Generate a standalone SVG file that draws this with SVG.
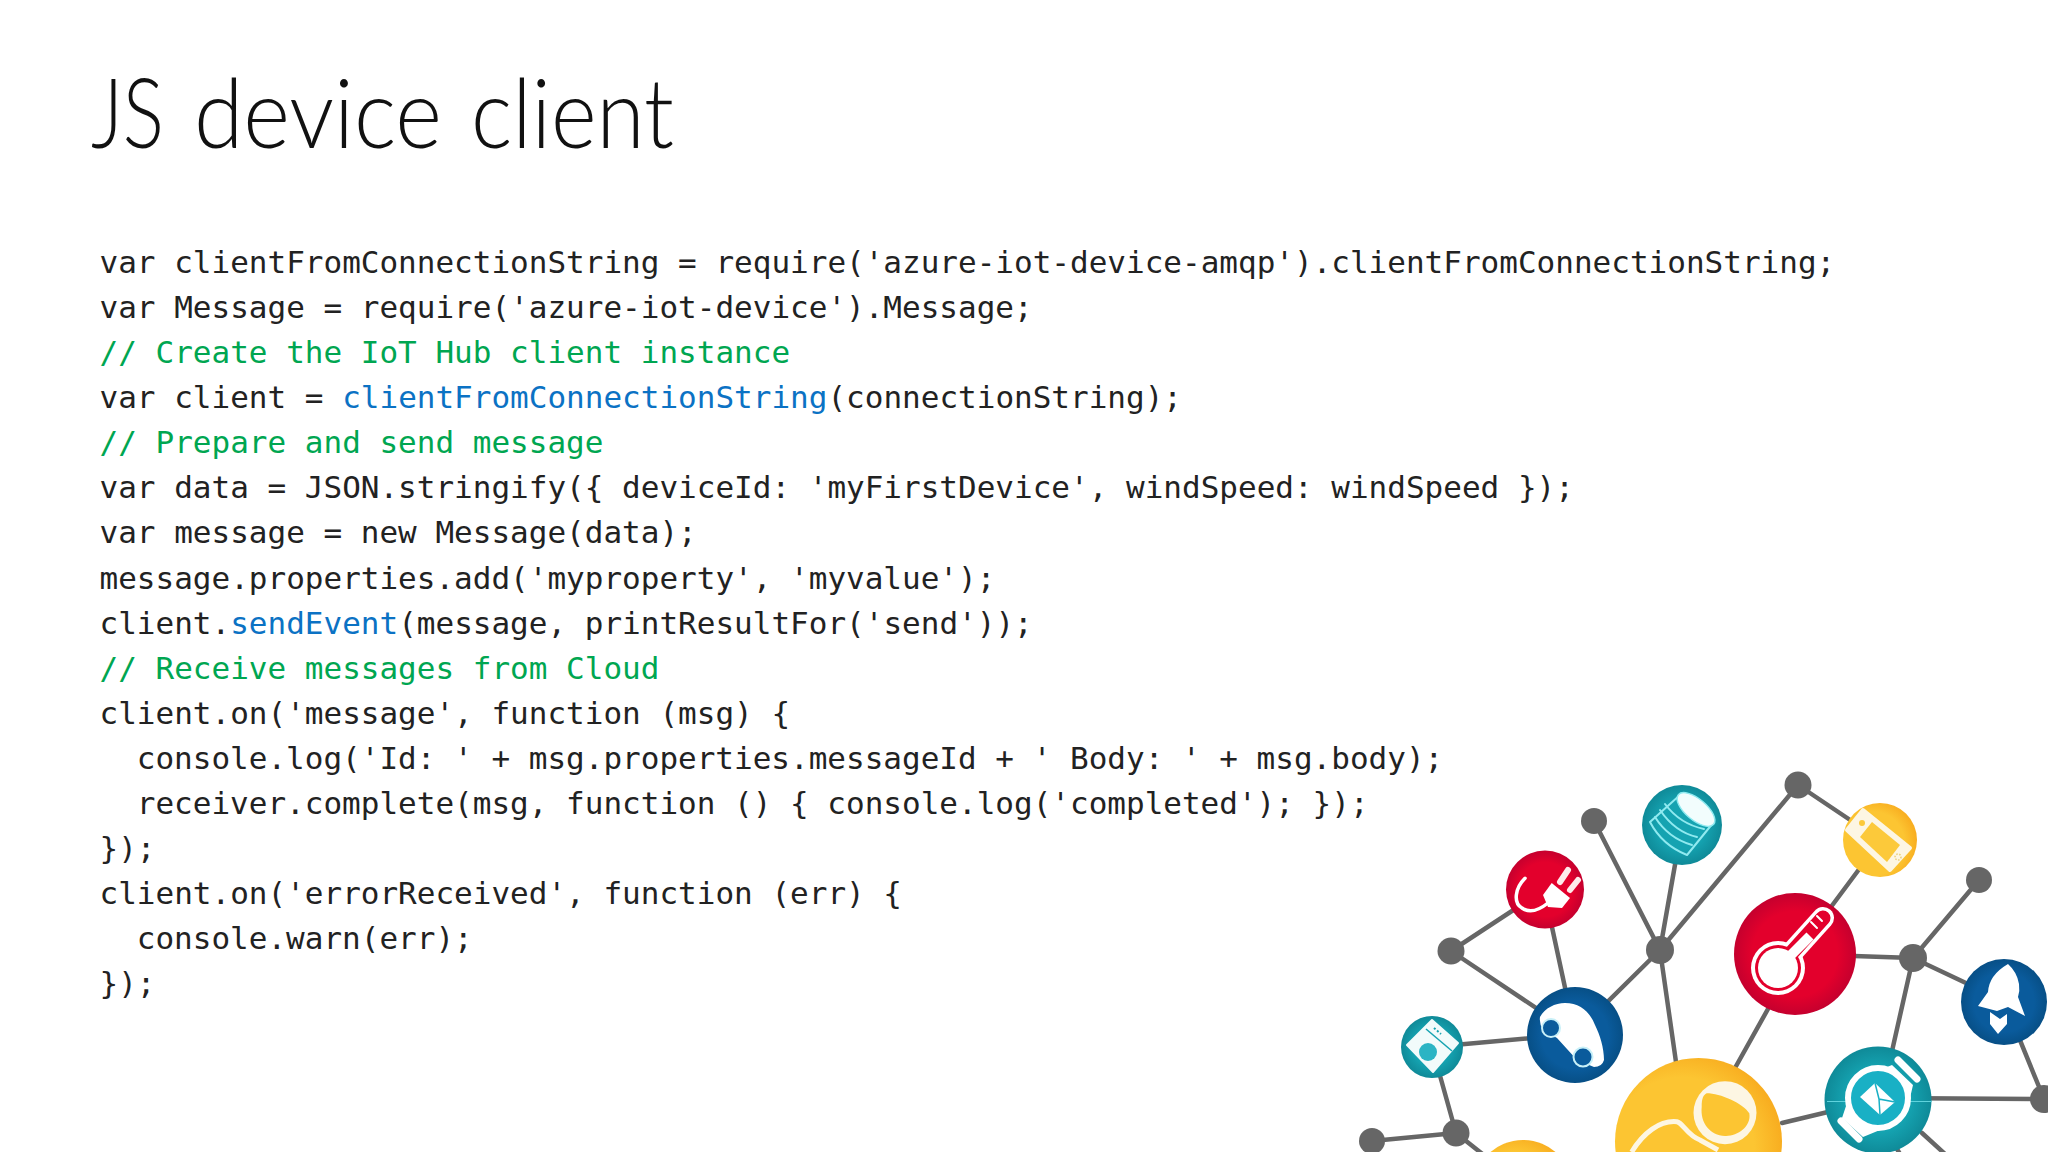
<svg xmlns="http://www.w3.org/2000/svg" width="2048" height="1152" viewBox="0 0 2048 1152">
<style>
.title{font-family:"Lato","Open Sans",sans-serif;font-weight:300;font-size:97px;fill:#111}
.code{font-family:"DejaVu Sans Mono","Liberation Mono",monospace;font-size:31px;fill:#222}
.c{fill:#00a651}
.k{fill:#0b72c4}
.e{stroke:#666;stroke-width:4.500;fill:none;stroke-linecap:round}
.g{fill:#666}
.w{fill:#fff;stroke:none}
.s{fill:none;stroke:#fff;stroke-width:3.5;stroke-linecap:round;stroke-linejoin:round}
.b{fill:none;stroke:#8feaf0;stroke-width:2;stroke-linecap:round;stroke-linejoin:round}
</style>
<defs>
<radialGradient id="red"><stop offset="0.7" stop-color="#e3002c"/><stop offset="1" stop-color="#c5002e"/></radialGradient>
<radialGradient id="blue"><stop offset="0.7" stop-color="#0a5b9c"/><stop offset="1" stop-color="#074f86"/></radialGradient>
<radialGradient id="teal"><stop offset="0.6" stop-color="#15a3b1"/><stop offset="1" stop-color="#0f8a98"/></radialGradient>
<radialGradient id="yellow" cx="0.4" cy="0.55" r="0.62"><stop offset="0.7" stop-color="#fcc532"/><stop offset="1" stop-color="#f8ab1e"/></radialGradient>
</defs>
<rect width="2048" height="1152" fill="#fff"/>
<text id="title" class="title" y="148"><tspan x="91" textLength="73" lengthAdjust="spacingAndGlyphs">JS</tspan> <tspan x="194" textLength="248" lengthAdjust="spacingAndGlyphs">device</tspan> <tspan x="471" textLength="203" lengthAdjust="spacingAndGlyphs">client</tspan></text>
<g id="code" class="code">
<text x="99.500" y="272.700">var clientFromConnectionString = require('azure-iot-device-amqp').clientFromConnectionString;</text>
<text x="99.500" y="317.800">var Message = require('azure-iot-device').Message;</text>
<text x="99.500" y="363" class="c">// Create the IoT Hub client instance</text>
<text x="99.500" y="408.100">var client = <tspan class="k">clientFromConnectionString</tspan>(connectionString);</text>
<text x="99.500" y="453.200" class="c">// Prepare and send message</text>
<text x="99.500" y="498.300">var data = JSON.stringify({ deviceId: 'myFirstDevice', windSpeed: windSpeed });</text>
<text x="99.500" y="543.400">var message = new Message(data);</text>
<text x="99.500" y="588.500">message.properties.add('myproperty', 'myvalue');</text>
<text x="99.500" y="633.600">client.<tspan class="k">sendEvent</tspan>(message, printResultFor('send'));</text>
<text x="99.500" y="678.700" class="c">// Receive messages from Cloud</text>
<text x="99.500" y="723.800">client.on('message', function (msg) {</text>
<text x="136.800" y="768.900">console.log('Id: ' + msg.properties.messageId + ' Body: ' + msg.body);</text>
<text x="136.800" y="814">receiver.complete(msg, function () { console.log('completed'); });</text>
<text x="99.500" y="859">});</text>
<text x="99.500" y="904">client.on('errorReceived', function (err) {</text>
<text x="136.800" y="949">console.warn(err);</text>
<text x="99.500" y="994">});</text>
</g>
<g id="connectors" class="e">
<path d="M1451 951L1544 890M1451 951L1575 1034M1544 890L1575 1034M1660 950L1575 1034M1660 950L1594 821M1660 950L1682 825M1660 950L1798 785M1660 950L1676 1062"/>
<path d="M1575 1034L1432 1047M1432 1047L1456 1133M1456 1133L1372 1141M1456 1133L1490 1160"/>
<path d="M1798 785L1880 840M1860 868L1825 915M1795 954L1913 958M1773 1000L1735 1068M1913 958L1979 880M1913 958L2004 1001M1913 958L1890 1060M1878 1100L1782 1123M1878 1098L2044 1099M2004 1001L2044 1099M1922 1133L1945 1154M1894 1144L1900 1154"/>
</g>
<g id="hub-1" class="g"><circle cx="1594" cy="821" r="13"/></g>
<g id="hub-2" class="g"><circle cx="1798" cy="785" r="13.500"/></g>
<g id="hub-3" class="g"><circle cx="1979" cy="880" r="13"/></g>
<g id="hub-4" class="g"><circle cx="1451" cy="951" r="13.500"/></g>
<g id="hub-5" class="g"><circle cx="1660" cy="950" r="14"/></g>
<g id="hub-6" class="g"><circle cx="1913" cy="958" r="14"/></g>
<g id="hub-7" class="g"><circle cx="2044" cy="1099" r="14"/></g>
<g id="hub-8" class="g"><circle cx="1456" cy="1133" r="13.500"/></g>
<g id="hub-9" class="g"><circle cx="1372" cy="1141" r="13"/></g>
<g id="node-database">
<circle cx="1682" cy="825" r="40" fill="url(#teal)"/>
<path class="b" d="M1680 795L1650 822Q1662 845 1687 855L1713 823"/>
<path class="b" d="M1665 804Q1680 824 1704 829M1660 810Q1675 832 1697 837M1655 817Q1668 838 1692 845"/>
<ellipse cx="1696" cy="809.500" rx="23" ry="10.500" transform="rotate(40 1696 809.500)" fill="#f2fdfd" stroke="#8feaf0" stroke-width="1.500"/>
</g>
<g id="node-phone">
<circle cx="1880" cy="840" r="37" fill="url(#yellow)"/>
<path d="M1863 810L1847 830L1890 870L1910 848Z" fill="#fdf6e3" stroke="#fdf6e3" stroke-width="4" stroke-linejoin="round"/>
<path d="M1872 822L1860 837L1887 862L1900 845Z" fill="#fcc93a"/>
<circle cx="1862" cy="823" r="3" fill="#fcc93a"/>
<circle cx="1898" cy="857" r="3" fill="none" stroke="#e9cf7a" stroke-width="1.500" stroke-dasharray="1.500 1.500"/>
</g>
<g id="node-plug">
<circle cx="1545" cy="889.500" r="39" fill="url(#red)"/>
<path class="s" d="M1525 878.300C1515 888 1513 903 1522 908C1532 915 1543 907 1548 903"/>
<path class="w" d="M1551.700 883L1570 898L1562 908L1548 907L1543 895Z"/>
<path d="M1560 882L1568 870M1570 890L1578 880" stroke="#fdeaea" stroke-width="6" stroke-linecap="round" fill="none"/>
</g>
<g id="node-thermometer">
<circle cx="1795" cy="954" r="61" fill="url(#red)"/>
<path d="M1778 968L1823 918" stroke="#fff" stroke-width="22" stroke-linecap="round"/>
<circle cx="1778" cy="968" r="27" class="w"/>
<path d="M1778 968L1823 918" stroke="#e3002c" stroke-width="15" stroke-linecap="round"/>
<circle cx="1778" cy="968" r="23" fill="#e3002c"/>
<circle cx="1778" cy="968" r="20" class="w"/>
<path d="M1778 968L1810 936" stroke="#fff" stroke-width="10"/>
<path d="M1811 922L1817 928M1817 916L1822 921" stroke="#fff" stroke-width="2" stroke-linecap="round"/>
</g>
<g id="node-rocket">
<circle cx="2004" cy="1002" r="43" fill="url(#blue)"/>
<path class="w" d="M2008 964Q2017 972 2019 984Q2020 991 2018 997L2025 1016L2008 1007L1997 1011L1978 1006L1988 992Q1989 975 2008 964Z"/>
<path class="w" d="M1990 1012L2000 1019L2007 1014L2007 1024L1998 1034L1990 1024Z"/>
</g>
<g id="node-car">
<circle cx="1575" cy="1035" r="48" fill="url(#blue)"/>
<path class="w" d="M1540 1017C1545 1008 1555 1003 1565 1003C1580 1003 1590 1012 1595 1025C1600 1035 1604 1048 1604 1060Q1602 1067 1594 1067L1577 1060L1557 1038L1543 1030Q1539 1023 1540 1017Z"/>
<circle cx="1551" cy="1028" r="9" fill="#0a5b9c" stroke="#c8f0f8" stroke-width="2"/>
<circle cx="1583" cy="1057" r="9.500" fill="#0a5b9c" stroke="#c8f0f8" stroke-width="2"/>
</g>
<g id="node-washer">
<circle cx="1432" cy="1047" r="31" fill="url(#teal)"/>
<path d="M1432 1020L1458 1043L1433 1072L1407 1045Z" fill="#f2fbfb" stroke="#f2fbfb" stroke-width="2" stroke-linejoin="round"/>
<path d="M1426 1029L1452 1051" stroke="#15a3b1" stroke-width="1.500"/>
<path d="M1434 1028L1441 1034" stroke="#15a3b1" stroke-width="2" stroke-dasharray="2 2"/>
<circle cx="1428" cy="1052" r="9" fill="#2bb4c4"/>
</g>
<g id="node-watch">
<circle cx="1878" cy="1100" r="53.500" fill="url(#teal)"/>
<path d="M1827 1101.500H1932" stroke="#5fd3dd" stroke-width="1"/>
<path class="w" d="M1875 1072L1892 1065L1913 1085L1910 1098L1895 1100L1880 1075Z"/>
<path class="w" d="M1847 1103L1842 1118L1863 1137L1880 1130L1860 1120Z"/>
<path d="M1898 1060L1917 1079M1841 1121L1859 1139" stroke="#fff" stroke-width="7" stroke-linecap="round"/>
<circle cx="1878" cy="1098" r="30" fill="#19b0c5" stroke="#fff" stroke-width="6"/>
<path class="w" d="M1875 1083L1895 1102L1880 1115L1860 1097Z"/>
<path d="M1875 1083L1879 1099L1895 1102M1879 1099L1880 1115" fill="none" stroke="#19b0c5" stroke-width="1.500"/>
</g>
<g id="node-large-yellow">
<circle cx="1698.500" cy="1141.500" r="83.500" fill="url(#yellow)"/>
<circle cx="1725" cy="1112.700" r="31.500" fill="#fdf6e3"/>
<path d="M1706.700 1093.300C1720 1093.300 1743.300 1103.300 1749.300 1113.300C1751.700 1126.700 1736.700 1136.700 1725 1136C1710 1135 1700 1123.300 1701.700 1106.700C1701.700 1098.300 1703.300 1095 1706.700 1093.300Z" fill="#fcc532"/>
<path d="M1631.700 1152C1643 1133 1660 1120 1677 1121.700C1683 1123 1687 1135 1700 1140L1718 1150" fill="none" stroke="#fdf6e3" stroke-width="5"/>
</g>
<g id="node-small-yellow">
<circle cx="1523" cy="1190" r="50" fill="url(#yellow)"/>
</g>
</svg>
